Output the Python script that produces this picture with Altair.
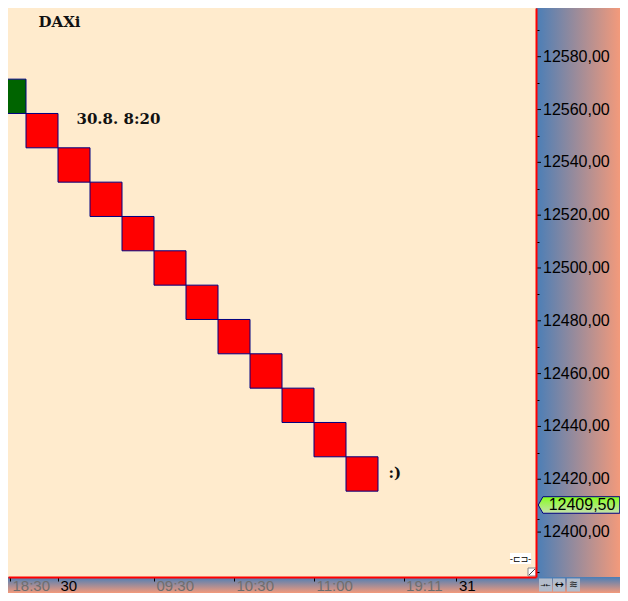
import json
import altair as alt
import pandas as pd

# ---------------- data ----------------
brick_index = [0, 1, 2, 3, 4, 5, 6, 7, 8, 9, 10, 11]
brick_low = [12558.5, 12545.5, 12532.5, 12519.5, 12506.5, 12493.5,
             12480.5, 12467.5, 12454.5, 12441.5, 12428.5, 12415.5]
brick_high = [12571.5, 12558.5, 12545.5, 12532.5, 12519.5, 12506.5,
              12493.5, 12480.5, 12467.5, 12454.5, 12441.5, 12428.5]
brick_dir = ["up", "down", "down", "down", "down", "down",
             "down", "down", "down", "down", "down", "down"]

note_text = ["30.8. 8:20", ":)"]
note_brick = [1, 11]
note_price = [12555.6, 12422.0]

last_price = [12409.5]
last_price_text = ["12409,50"]

x_tick_values = [0.5, 2, 5, 7.5, 10, 12.8, 14.45]
x_tick_labels = ["18:30", "30", "09:30", "10:30", "11:00", "19:11", "31"]
x_day_ticks = [2, 14.45]

y_major_ticks = [12400, 12420, 12440, 12460, 12480, 12500, 12520, 12540, 12560, 12580]
y_major_labels = ["12400,00", "12420,00", "12440,00", "12460,00", "12480,00",
                  "12500,00", "12520,00", "12540,00", "12560,00", "12580,00"]
y_tick_values = [v for v in range(12385, 12600, 5) if v != 12410]

x_domain = [0.4375, 16.9375]
y_domain = [12382.99, 12598.44]

# ---------------- styling ----------------
BG = "#FFEBCD"
BLUE = "#4A7EB7"
SALMON = "#F39A7B"
NAVY = "#000080"

W, H = 528, 569
TOTAL_W, TOTAL_H = 612, 585

df = pd.DataFrame({
    "i": brick_index,
    "i2": [i + 1 for i in brick_index],
    "low": brick_low,
    "high": brick_high,
    "dir": brick_dir,
})
notes = pd.DataFrame({
    "text": note_text,
    "xr": [brick_index[b] + 1 for b in note_brick],
    "price": note_price,
})
price_df = pd.DataFrame({"price": last_price, "label": last_price_text})
major_df = pd.DataFrame({"v": y_major_ticks, "label": y_major_labels})

xs = alt.Scale(domain=x_domain, nice=False, zero=False)
ys = alt.Scale(domain=y_domain, nice=False, zero=False)

x_axis = alt.Axis(
    orient="bottom",
    values=x_tick_values,
    labelExpr=f"{json.dumps(x_tick_labels)}[indexof({json.dumps(x_tick_values)}, datum.value)]",
    domainColor="#FF0000", domainWidth=2,
    tickColor="black", tickSize=4,
    labelAlign="left", labelBaseline="alphabetic", labelPadding=9, labelOffset=2,
    labelFont="Liberation Sans", labelFontSize=15,
    labelColor={"condition": {"test": f"indexof({json.dumps(x_day_ticks)}, datum.value) >= 0",
                              "value": "#000000"},
                "value": "#6E6E6E"},
    labelFlush=False, labelOverlap=False, grid=False, zindex=1, title=None,
)
y_axis = alt.Axis(
    orient="right",
    values=y_tick_values,
    labels=False,
    domainColor="#FF0000", domainWidth=2,
    tickColor="black", tickSize=3,
    grid=False, zindex=1, title=None,
)

one = alt.Data(values=[{"k": 0}])

grad_h = alt.Gradient(gradient="linear",
                      stops=[alt.GradientStop(color=BLUE, offset=0),
                             alt.GradientStop(color=SALMON, offset=1)],
                      x1=0, x2=1, y1=0, y2=0)
grad_v = alt.Gradient(gradient="linear",
                      stops=[alt.GradientStop(color=BLUE, offset=0),
                             alt.GradientStop(color=SALMON, offset=1)],
                      x1=0, x2=0, y1=0, y2=1)
grad_green = alt.Gradient(gradient="linear",
                          stops=[alt.GradientStop(color="#86FF1E", offset=0),
                                 alt.GradientStop(color="#C6E0AE", offset=1)],
                          x1=0, x2=0, y1=0, y2=1)


def deco_rect(x, x2, y, y2, **mark):
    return alt.Chart(one).mark_rect(**mark).encode(
        x=alt.value(x), x2=alt.value(x2), y=alt.value(y), y2=alt.value(y2))


def deco_text(x, y, text, **mark):
    return alt.Chart(one).mark_text(text=text, **mark).encode(
        x=alt.value(x), y=alt.value(y))


right_panel = deco_rect(W, TOTAL_W, 0, H, fill=grad_h)
bottom_panel = deco_rect(0, TOTAL_W, H, TOTAL_H, fill=grad_v)

major_ticks = alt.Chart(major_df).mark_rule(color="black", strokeWidth=1).encode(
    y=alt.Y("v:Q", scale=ys, title=None),
    x=alt.value(W),
    x2=alt.value(W + 5),
)
major_labels = alt.Chart(major_df).mark_text(
    font="Liberation Sans", fontSize=16, color="black", align="left",
    baseline="middle").encode(
    y=alt.Y("v:Q", scale=ys, title=None),
    x=alt.value(W + 7),
    text="label:N",
)

bricks = alt.Chart(df).mark_rect(stroke=NAVY, strokeWidth=1, clip=True).encode(
    x=alt.X("i:Q", scale=xs, axis=x_axis, title=None),
    x2="i2",
    y=alt.Y("low:Q", scale=ys, axis=y_axis, title=None),
    y2="high",
    fill=alt.Fill("dir:N", scale=alt.Scale(domain=["up", "down"], range=["#006400", "#FF0000"]),
                  legend=None),
)

note_font = dict(font="DejaVu Serif", fontWeight="bold", fontSize=15, color="#111111",
                 align="left", baseline="middle")
note1 = alt.Chart(notes).transform_filter(alt.datum.text == note_text[0]).mark_text(
    dx=18.5, dy=-2, **note_font).encode(
    x=alt.X("xr:Q", scale=xs, title=None),
    y=alt.Y("price:Q", scale=ys, title=None),
    text="text:N")
note2 = alt.Chart(notes).transform_filter(alt.datum.text == note_text[1]).mark_text(
    dx=10.5, dy=-1, **note_font).encode(
    x=alt.X("xr:Q", scale=xs, title=None),
    y=alt.Y("price:Q", scale=ys, title=None),
    text="text:N")

title_text = deco_text(30.5, 19.3, "DAXi", font="DejaVu Serif", fontWeight="bold",
                       fontSize=15, color="#111111", align="left", baseline="alphabetic")

label_path = "M -1 0 L -0.885 -0.203 L 1 -0.203 L 1 0.203 L -0.885 0.203 Z"
price_box = alt.Chart(price_df).mark_point(
    shape=label_path, size=81.5 * 81.5, filled=True, fill=grad_green, stroke=NAVY,
    strokeWidth=1, opacity=1, yOffset=-2).encode(
    x=alt.value(571.0),
    y=alt.Y("price:Q", scale=ys, title=None))
price_text = alt.Chart(price_df).mark_text(
    font="Liberation Sans", fontSize=16, color="black", align="center",
    baseline="middle", dy=-2).encode(
    x=alt.value(574.0),
    y=alt.Y("price:Q", scale=ys, title=None),
    text="label:N")

# small UI decorations
icons = [
    deco_rect(531, 544, 570.5, 583.5, fill="#B3BCCB"),
    deco_rect(545, 557, 570.5, 583.5, fill="#B3BCCB"),
    deco_rect(559, 572, 570.5, 583.5, fill="#B3BCCB"),
    deco_text(537.5, 577, "→←", font="DejaVu Sans", fontSize=6, color="black",
              align="center", baseline="middle"),
    deco_text(551, 576.5, "↔", font="DejaVu Sans", fontSize=11, color="black",
              align="center", baseline="middle"),
    deco_text(565.5, 576.5, "≋", font="DejaVu Sans", fontSize=11, color="#222222",
              align="center", baseline="middle"),
    deco_rect(502, 523, 545, 556, fill="white"),
    deco_text(512.5, 550.5, "-⊏⊐-", font="DejaVu Sans", fontSize=9, color="black",
              align="center", baseline="middle"),
    deco_rect(520, 528, 560, 568, fill="white", stroke="#888888", strokeWidth=1),
    alt.Chart(one).mark_rule(color="#444444", strokeWidth=1).encode(
        x=alt.value(521), x2=alt.value(527), y=alt.value(567), y2=alt.value(561)),
]

chart = alt.layer(
    right_panel, bottom_panel, major_ticks, major_labels, bricks, note1, note2, title_text,
    price_box, price_text, *icons
).properties(
    width=W, height=H,
    autosize=alt.AutoSizeParams(type="none"),
    padding={"left": 0, "top": 0, "right": TOTAL_W - W, "bottom": TOTAL_H - H},
    background=BG,
).configure_view(fill=BG, stroke="transparent")

chart.save("out.html", embed_options={"renderer": "svg", "actions": False})
